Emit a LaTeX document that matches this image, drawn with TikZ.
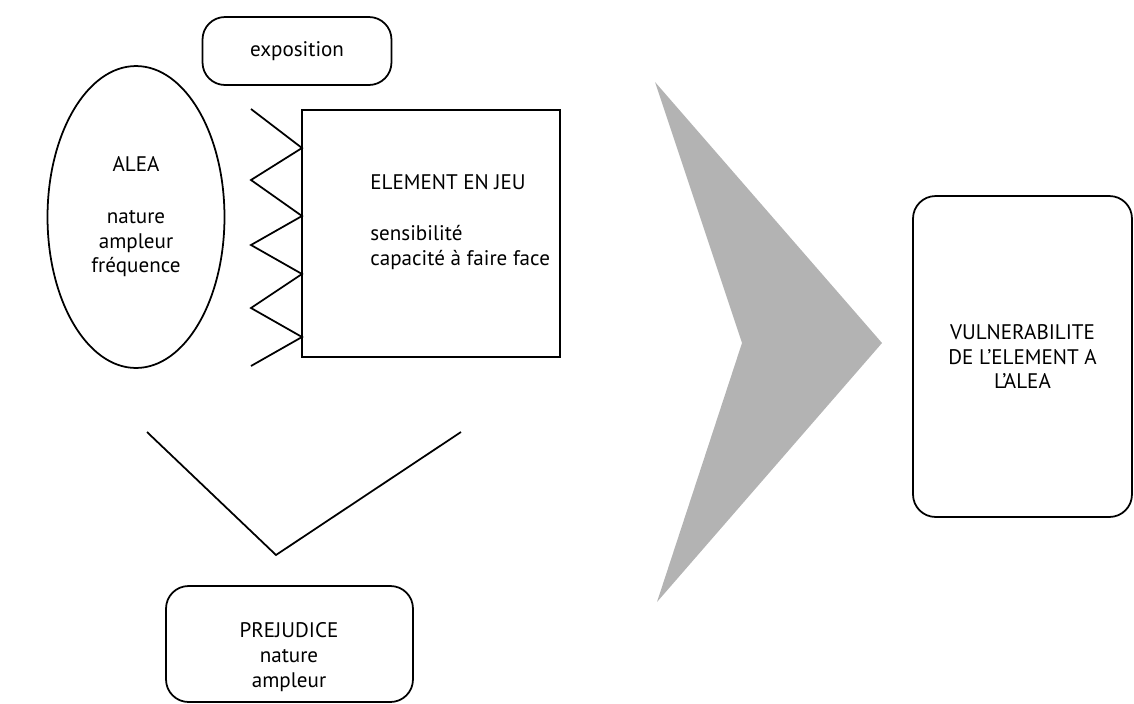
\documentclass[tikz,border=0pt]{standalone}
\usepackage{fontspec}
\setmainfont{PT Sans}
\usetikzlibrary{shapes.geometric}
\definecolor{chevgray}{HTML}{B3B3B3}
\tikzset{
  rbox/.style={draw, rounded corners=0.45cm, line width=1pt, inner sep=0pt},
  sbox/.style={draw, line width=1pt, inner sep=0pt},
  txt/.style={font=\fontsize{12}{14.2}\selectfont, align=center, inner sep=0pt},
  ln/.style={line width=1pt, line join=miter},
}
\begin{document}
\begin{tikzpicture}[x=0.02cm, y=-0.02cm]
  \useasboundingbox (0,0) rectangle (1134,704);
  % alea, exposition, element
  \node[rbox, minimum width=3.78cm, minimum height=1.36cm, txt] (expo) at (297,51) {exposition};
  \node[ellipse, sbox, minimum width=3.54cm, minimum height=6.04cm, txt] (alea) at (136,217) {ALEA\\[15pt]nature\\ampleur\\fréquence};
  \node[sbox, minimum width=5.16cm, minimum height=4.94cm] (elem) at (431,233.5) {};
  \node[txt, align=left, anchor=west] (elemtxt) at (370,222) {ELEMENT EN JEU\\[15pt]sensibilité\\capacité à faire face};
  \draw[ln] (251,109) -- (302,148) -- (251,180) -- (302,216) -- (251,245)
    -- (302,274) -- (251,308) -- (302,337) -- (251,366);
  % prejudice
  \coordinate (vl) at (147,432);
  \coordinate (vb) at (276,555);
  \coordinate (vr) at (461,432);
  \draw[ln] (vl) -- (vb) -- (vr);
  \node[rbox, minimum width=4.94cm, minimum height=2.32cm] (prej) at (289.5,644) {};
  \node[txt] (prejtxt) at (289,657) {PREJUDICE\\nature\\ampleur};
  % fleche et vulnerabilite
  \fill[chevgray] (655,82) -- (882,343) -- (657,602) -- (742,343) -- cycle;
  \node[rbox, minimum width=4.38cm, minimum height=6.42cm, txt] (vuln) at (1022.5,356.5) {VULNERABILITE\\DE L'ELEMENT A\\L'ALEA};
\end{tikzpicture}
\end{document}
